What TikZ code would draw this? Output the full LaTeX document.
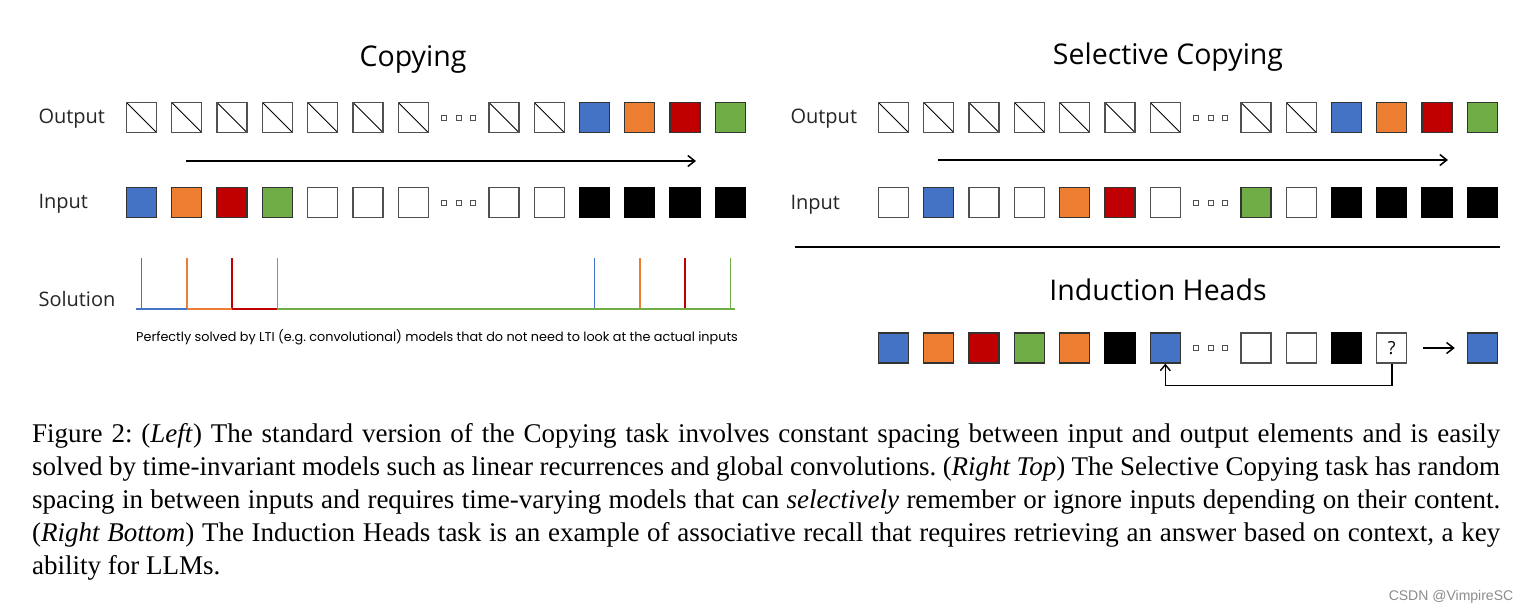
\documentclass[tikz,border=0pt]{standalone}
\usepackage{fontspec}
\setmainfont{Liberation Serif}
\newfontfamily\labfont{Open Sans}
\newfontfamily\smallfont{Poppins}
\newfontfamily\wmfont{Liberation Sans}
\usetikzlibrary{arrows.meta,calc}
\definecolor{cblue}{HTML}{4472C4}
\definecolor{corange}{HTML}{ED7D31}
\definecolor{cred}{HTML}{C00000}
\definecolor{cgreen}{HTML}{70AD47}
\definecolor{boxgray}{HTML}{505050}
\frenchspacing
\tikzset{
  cellbase/.style={draw=boxgray,line width=1.3pt,minimum size=30pt,inner sep=0pt},
  cW/.style={cellbase,fill=white},
  cB/.style={cellbase,fill=cblue,draw=black!80},
  cO/.style={cellbase,fill=corange,draw=black!80},
  cR/.style={cellbase,fill=cred,draw=black!80},
  cG/.style={cellbase,fill=cgreen,draw=black!80},
  cK/.style={cellbase,fill=black,draw=black},
  cD/.style={cellbase,fill=white,path picture={\draw[line width=0.9pt,black] (path picture bounding box.north west) -- (path picture bounding box.south east);}},
  cQ/.style={cellbase,fill=white,label={[font=\labfont\fontsize{18}{20}\selectfont]center:?}},
  dotbox/.style={draw=boxgray,line width=1pt,minimum size=5pt,inner sep=0pt},
  lab/.style={font=\labfont\fontsize{20}{24}\selectfont,anchor=base west,text=black!85},
  ttl/.style={font=\labfont\fontsize{28.5}{32}\selectfont,anchor=base},
  flowarrow/.style={line width=1.5pt,-{Straight Barb[length=7pt,width=11pt,line width=1.5pt]}},
  solline/.style={line width=1.4pt},
  capline/.style={anchor=base west,inner sep=0pt,font=\fontsize{27}{32}\selectfont},
}
\newcommand{\cellrow}[4]{% name, x0, y, list
  \foreach \c [count=\i from 0] in {#4}{
    \if\c X
      \node[dotbox] (#1d1) at ({#2+45.3*\i-14.5},#3) {};
      \node[dotbox] (#1d2) at ({#2+45.3*\i},#3) {};
      \node[dotbox] (#1d3) at ({#2+45.3*\i+14.5},#3) {};
    \else
      \node[c\c] (#1\i) at ({#2+45.3*\i},#3) {};
    \fi
  }
}
\begin{document}
\begin{tikzpicture}[x=1pt,y=-1pt]
\useasboundingbox[fill=white] (0,0) rectangle (1527,614);

% titles
\node[ttl] (t1) at (413,66) {Copying};
\node[ttl] (t2) at (1168,64) {Selective Copying};
\node[ttl] (t3) at (1158,300) {Induction Heads};

% labels
\node[lab] (lo) at (35,123) {Output};
\node[lab] (li) at (35,208) {Input};
\node[lab] (ls) at (35,306) {Solution};
\node[lab] (ro) at (787,123) {Output};
\node[lab] (ri) at (787,209) {Input};

% left rows
\cellrow{lo}{141.5}{117.5}{D,D,D,D,D,D,D,X,D,D,B,O,R,G}
\cellrow{li}{141.5}{202.5}{B,O,R,G,W,W,W,X,W,W,K,K,K,K}
% right rows
\cellrow{ro}{893.5}{117.5}{D,D,D,D,D,D,D,X,D,D,B,O,R,G}
\cellrow{ri}{893.5}{202.5}{W,B,W,W,O,R,W,X,G,W,K,K,K,K}
% induction heads
\cellrow{ih}{893.5}{348}{B,O,R,G,O,K,B,X,W,W,K,Q}
\node[cB] (ans) at ({893.5+45.3*13},348) {};

% arrows
\coordinate (la1) at (186,161);
\coordinate (la2) at (696,161);
\draw[flowarrow] (la1) -- (la2);
\coordinate (ra1) at (938,160);
\draw[flowarrow] (ra1) -- (ra1 -| {1448,0});
\draw[flowarrow,shorten <=16pt,shorten >=12pt] (ih11) -- (ans);
\draw[line width=1.4pt,-{Straight Barb[length=6pt,width=10pt,line width=1.4pt]}] (ih11.south) -- ++(0,22) -| (ih6.south);

% separator
\draw[line width=1.4pt] (795,247) -- (1500,247);

% solution
\draw[solline,cblue] (li0 |- 0,258) -- (li0 |- 0,309);
\draw[solline,corange] (li1 |- 0,258) -- (li1 |- 0,309);
\draw[solline,cred] (li2 |- 0,258) -- (li2 |- 0,309);
\draw[solline,cgreen] (li3 |- 0,258) -- (li3 |- 0,309);
\draw[solline,cblue] (lo10 |- 0,258) -- (lo10 |- 0,309);
\draw[solline,corange] (lo11 |- 0,258) -- (lo11 |- 0,309);
\draw[solline,cred] (lo12 |- 0,258) -- (lo12 |- 0,309);
\draw[solline,cgreen] (lo13 |- 0,258) -- (lo13 |- 0,309);
\draw[solline,cblue] (136,309) -- (li1 |- 0,309);
\draw[solline,corange] (li1 |- 0,309) -- (li2 |- 0,309);
\draw[solline,cred] (li2 |- 0,309) -- (li3 |- 0,309);
\draw[solline,cgreen] (li3 |- 0,309) -- (735,309);
\node[font=\smallfont\fontsize{12.8}{14}\selectfont,anchor=west,inner sep=0pt] (sc) at (136,337) {Perfectly solved by LTI (e.g. convolutional) models that do not need to look at the actual inputs};

% caption
\node[capline] (c1) at (32,442) {\makebox[1468pt][s]{Figure 2: (\textit{Left}) The standard version of the Copying task involves constant spacing between input and output elements and is easily}};
\node[capline] (c2) at (32,475) {\makebox[1468pt][s]{solved by time-invariant models such as linear recurrences and global convolutions. (\textit{Right Top}) The Selective Copying task has random}};
\node[capline] (c3) at (32,508) {\makebox[1468pt][s]{spacing in between inputs and requires time-varying models that can \textit{selectively} remember or ignore inputs depending on their content.}};
\node[capline] (c4) at (32,541) {\makebox[1468pt][s]{(\textit{Right Bottom}) The Induction Heads task is an example of associative recall that requires retrieving an answer based on context, a key}};
\node[capline] (c5) at (32,574) {ability for LLMs.};

% watermark
\node[font=\wmfont\fontsize{14}{16}\selectfont,text=black!45] (wm) at (1451,597) {CSDN @VimpireSC};
\end{tikzpicture}
\end{document}
